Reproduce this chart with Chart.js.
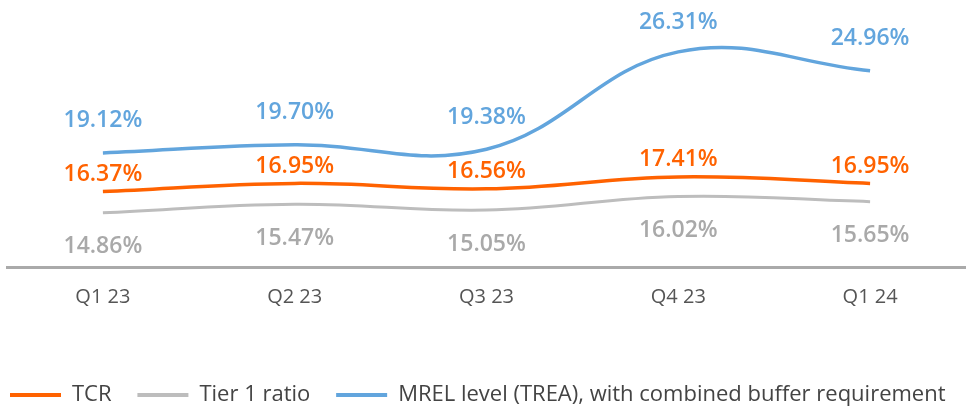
<!DOCTYPE html>
<html>
<head>
<meta charset="utf-8">
<script src="https://cdn.jsdelivr.net/npm/chart.js@4/dist/chart.umd.min.js"></script>
<style>
  html, body { margin: 0; padding: 0; background: #fff; }
  #wrap { width: 966px; height: 407px; position: relative; }
</style>
</head>
<body>
<div id="wrap"><canvas id="chart"></canvas></div>
<script>
// chart data
const quarters = ['Q1 23', 'Q2 23', 'Q3 23', 'Q4 23', 'Q1 24'];
const tcr = [16.37, 16.95, 16.56, 17.41, 16.95];
const tier1 = [14.86, 15.47, 15.05, 16.02, 15.65];
const mrel = [19.12, 19.70, 19.38, 26.31, 24.96];

const ORANGE = '#FF6200';
const GREY = '#BDBDBD';
const BLUE = '#62A5DD';

// Draw value labels next to each point
const valueLabels = {
  id: 'valueLabels',
  afterDatasetsDraw(chart) {
    const ctx = chart.ctx;
    ctx.save();
    ctx.font = '600 23px "Open Sans"';
    ctx.textAlign = 'center';
    ctx.textBaseline = 'middle';
    chart.data.datasets.forEach((ds, i) => {
      const meta = chart.getDatasetMeta(i);
      ctx.fillStyle = ds.labelColor;
      meta.data.forEach((pt, j) => {
        const y = Math.max(pt.y + ds.labelOffset, 22);
        ctx.fillText(ds.data[j].toFixed(2) + '%', pt.x, y);
      });
    });
    ctx.restore();
  }
};

// Push the legend a little lower, closer to the bottom edge
const legendNudge = {
  id: 'legendNudge',
  afterLayout(chart) {
    chart.legend.top += 9;
    chart.legend.bottom += 9;
  }
};

new Chart(document.getElementById('chart'), {
  type: 'line',
  data: {
    labels: quarters,
    datasets: [
      { label: 'TCR', data: tcr, borderColor: ORANGE, backgroundColor: ORANGE, labelColor: ORANGE, labelOffset: -17 },
      { label: 'Tier 1 ratio', data: tier1, borderColor: GREY, backgroundColor: GREY, labelColor: '#A9A9A9', labelOffset: 34, borderWidth: 3 },
      { label: 'MREL level (TREA), with combined buffer requirement', data: mrel, borderColor: BLUE, backgroundColor: BLUE, labelColor: BLUE, labelOffset: -32 }
    ]
  },
  options: {
    responsive: true,
    maintainAspectRatio: false,
    animation: false,
    layout: { padding: { left: 7, right: 0, top: 0, bottom: 0 } },
    elements: {
      line: { borderWidth: 3.5, tension: 0.4, fill: false },
      point: { radius: 0, hoverRadius: 0 }
    },
    plugins: {
      legend: {
        position: 'bottom',
        align: 'start',
        labels: {
          boxWidth: 51,
          boxHeight: 4,
          padding: 3,
          color: '#444',
          font: { family: '"Open Sans"', size: 22 },
          generateLabels(chart) {
            return chart.data.datasets.map((ds, i) => ({
              text: ds.label + (i < 2 ? '    ' : ''),
              fillStyle: ds.borderColor,
              strokeStyle: ds.borderColor,
              lineWidth: 0,
              fontColor: '#444',
              datasetIndex: i
            }));
          }
        }
      },
      tooltip: { enabled: false }
    },
    scales: {
      x: {
        offset: true,
        grid: { display: false, drawTicks: false, offset: false },
        border: { color: '#AAAAAA', width: 3 },
        ticks: { color: '#555', font: { family: '"Open Sans"', size: 20 }, padding: 18 },
        afterFit(scale) { scale.height = 105; }
      },
      y: {
        display: false,
        min: 11,
        max: 30
      }
    }
  },
  plugins: [valueLabels, legendNudge]
});
</script>
</body>
</html>
